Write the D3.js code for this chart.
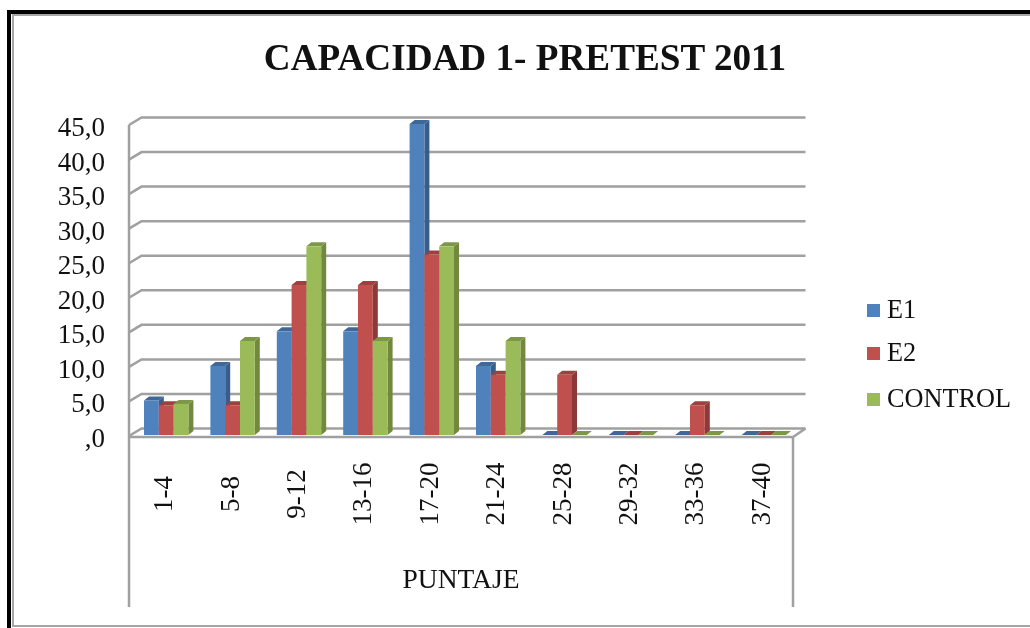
<!DOCTYPE html>
<html>
<head>
<meta charset="utf-8">
<script src="https://cdn.jsdelivr.net/npm/d3@7"></script>
<style>
    html, body { margin: 0; padding: 0; background: #fff; }
    svg { display: block; filter: blur(0.4px); }
    text { font-family: "Liberation Serif", serif; fill: #111; }
</style>
</head>
<body>
<svg id="chart" width="1030" height="628"></svg>
<script>
var categories = ["1-4", "5-8", "9-12", "13-16", "17-20", "21-24", "25-28", "29-32", "33-36", "37-40"];
var seriesNames = ["E1", "E2", "CONTROL"];
var e1 = [5, 10, 15, 15, 45, 10, 0, 0, 0, 0];
var e2 = [4.3, 4.3, 21.7, 21.7, 26.1, 8.7, 8.7, 0, 4.3, 0];
var control = [4.5, 13.6, 27.3, 13.6, 27.3, 13.6, 0, 0, 0, 0];
var yTicks = [0, 5, 10, 15, 20, 25, 30, 35, 40, 45];
var colors = ["#4f81bd", "#c0504d", "#9bbb59"];
var sideColors = ["#385d8a", "#8c3a38", "#71893f"];
var topColors = ["#3f6797", "#9c413e", "#7d9748"];

var svg = d3.select('#chart');
var gridCol = '#a0a0a0';

// wall depth and bar depth
var wallX = 12.5, wallY = 7.5;
var barX = 5, barY = 4;

var x = d3.scaleBand().domain(categories).range([129, 793]);
var y = d3.scaleLinear().domain([0, 45]).range([435, 124]);
var xBar = d3.scaleBand().domain(d3.range(3)).range([0, 44.4]);

// outer frame
svg.append('rect').attr('x', 9).attr('y', 12).attr('width', 1040).attr('height', 640).attr('fill', 'none')
    .attr('stroke', '#000').attr('stroke-width', 4);
svg.append('rect').attr('x', 13).attr('y', 15).attr('width', 1040).attr('height', 611).attr('fill', 'none')
    .attr('stroke', '#a6a6a6').attr('stroke-width', 2);

svg.append('text')
    .attr('x', 525).attr('y', 70)
    .attr('text-anchor', 'middle')
    .attr('font-size', 37.2).attr('font-weight', 'bold')
    .text('CAPACIDAD 1- PRETEST 2011');

// gridlines on back and side wall
var grid = svg.append('g').attr('fill', 'none').attr('stroke', gridCol).attr('stroke-width', 2.5);
yTicks.forEach(function(t){
    var p = d3.path();
    p.moveTo(129, y(t) + 1);
    p.lineTo(129 + wallX, y(t) - wallY + 1);
    p.lineTo(793 + wallX, y(t) - wallY + 1);
    grid.append('path').attr('d', p.toString());
});

// floor
var floor = d3.path();
floor.moveTo(129, y(0) + 2);
floor.lineTo(793, y(0) + 2);
floor.lineTo(793 + wallX, y(0) - wallY + 1);
grid.append('path').attr('d', floor.toString());

// axis lines, long because of the two level label box
grid.append('path').attr('d', 'M129,' + (y(45) + 1) + 'V607');
grid.append('path').attr('d', 'M793,' + (y(0) + 2) + 'V607');

// y labels
svg.append('g').selectAll('text')
    .data(yTicks)
    .enter().append('text')
    .attr('x', 105).attr('y', function(d){ return y(d) + 12; })
    .attr('text-anchor', 'end')
    .attr('font-size', 27)
    .text(function(d){ return d === 0 ? ',0' : d3.format('.1f')(d).replace('.', ','); });

// bars
var bars = [];
[e1, e2, control].forEach(function(vals, s){
    vals.forEach(function(v, i){ bars.push({cat: categories[i], s: s, v: v}); });
});
bars.sort(function(a, b){ return categories.indexOf(a.cat) - categories.indexOf(b.cat) || a.s - b.s; });

var groupOffset = (x.bandwidth() - 44.4) / 2 + 4;
var barG = svg.append('g').selectAll('g')
    .data(bars)
    .enter().append('g')
    .attr('transform', function(d){ return 'translate(' + (x(d.cat) + groupOffset + xBar(d.s)) + ',0)'; });

var bw = xBar.bandwidth();
barG.append('path')
    .attr('fill', function(d){ return sideColors[d.s]; })
    .attr('d', function(d){
        return 'M' + bw + ',' + y(d.v) + 'L' + (bw + barX) + ',' + (y(d.v) - barY) +
            'V' + (y(0) - barY) + 'L' + bw + ',' + y(0) + 'Z';
    });
barG.append('path')
    .attr('fill', function(d){ return topColors[d.s]; })
    .attr('d', function(d){
        return 'M0,' + y(d.v) + 'L' + barX + ',' + (y(d.v) - barY) +
            'H' + (bw + barX) + 'L' + bw + ',' + y(d.v) + 'Z';
    });
barG.append('rect')
    .attr('x', 0).attr('width', bw)
    .attr('y', function(d){ return y(d.v); })
    .attr('height', function(d){ return y(0) - y(d.v); })
    .attr('fill', function(d){ return colors[d.s]; });

// category labels
svg.append('g').selectAll('text')
    .data(categories)
    .enter().append('text')
    .attr('text-anchor', 'middle')
    .attr('font-size', 27)
    .attr('transform', function(d){
        return 'translate(' + (x(d) + x.bandwidth() / 2 + 1) + ',494)rotate(-90)';
    })
    .attr('dy', '0.33em')
    .text(function(d){ return d; });

svg.append('text')
    .attr('x', 461).attr('y', 588)
    .attr('text-anchor', 'middle')
    .attr('font-size', 27.5)
    .text('PUNTAJE');

// legend
var legendY = [310, 353, 399];
var legend = svg.append('g').selectAll('g')
    .data(seriesNames)
    .enter().append('g')
    .attr('transform', function(d, i){ return 'translate(867,' + legendY[i] + ')'; });
legend.append('rect')
    .attr('x', 0).attr('y', -6).attr('width', 13).attr('height', 13)
    .attr('fill', function(d, i){ return colors[i]; });
legend.append('text')
    .attr('x', 20).attr('y', 8)
    .attr('font-size', 26.3)
    .text(function(d){ return d; });
</script>
</body>
</html>
